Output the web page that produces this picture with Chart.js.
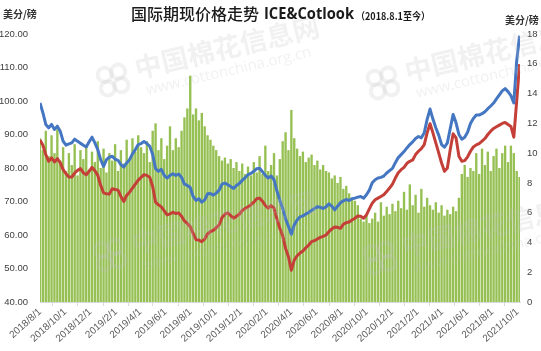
<!DOCTYPE html>
<html>
<head>
<meta charset="utf-8">
<script src="https://cdn.jsdelivr.net/npm/chart.js@4/dist/chart.umd.min.js"></script>
<style>
  html, body { margin: 0; padding: 0; background: #fff; }
  #wrap { position: relative; width: 541px; height: 351px; }
</style>
</head>
<body>
<div id="wrap"><canvas id="chart" width="541" height="351"></canvas></div>
<script>
// weekly readings starting 2018/8/1 (one value per week)
const tickLabels = ['2018/8/1', '2018/10/1', '2018/12/1', '2019/2/1', '2019/4/1', '2019/6/1', '2019/8/1',
  '2019/10/1', '2019/12/1', '2020/2/1', '2020/4/1', '2020/6/1', '2020/8/1', '2020/10/1', '2020/12/1',
  '2021/2/1', '2021/4/1', '2021/6/1', '2021/8/1', '2021/10/1'];

// Cotlook A index (blue), cents/lb
const cotlook = [
  99.4, 96.5, 93.0, 92.0, 93.0, 91.5, 92.5, 91.0, 88.0, 86.8,
  87.2, 87.5, 88.6, 88.0, 87.4, 86.8, 86.3, 87.8, 89.2, 87.5,
  85.5, 82.5, 80.5, 82.5, 83.2, 83.5, 82.6, 82.3, 81.0, 80.3,
  81.5, 82.5, 84.2, 85.5, 87.0, 87.3, 87.9, 87.3, 86.5, 84.0,
  79.8, 79.0, 79.6, 77.8, 77.0, 77.8, 78.3, 77.8, 78.2, 77.2,
  75.2, 74.8, 74.2, 71.5, 70.3, 70.8, 69.8, 70.5, 72.3, 72.4,
  71.9, 72.5, 73.4, 75.2, 75.5, 75.0, 74.5, 73.9, 74.8, 75.4,
  76.3, 77.1, 78.0, 78.4, 79.0, 79.8, 79.9, 78.9, 77.8, 77.0,
  77.6, 76.5, 73.2, 70.4, 68.0, 64.8, 62.6, 60.2, 63.0, 64.5,
  65.4, 65.7, 66.3, 66.7, 67.3, 67.9, 68.4, 68.3, 67.9, 68.4,
  69.3, 68.6, 67.5, 68.6, 69.6, 70.2, 70.6, 70.3, 70.8, 71.0,
  71.3, 71.5, 71.0, 72.0, 73.4, 75.6, 76.5, 77.0, 77.2, 77.6,
  78.5, 79.2, 79.9, 81.6, 83.1, 84.0, 84.9, 86.0, 87.0, 87.8,
  88.8, 89.4, 89.0, 90.5, 94.5, 97.6, 94.6, 92.0, 89.8, 87.0,
  86.2, 87.5, 91.8, 96.0, 93.5, 90.0, 88.6, 89.2, 90.7, 93.3,
  94.8, 95.8, 95.8, 96.2, 96.8, 97.7, 98.5, 99.4, 100.6, 101.8,
  103.0, 103.7, 102.8, 101.6, 99.4, 112.0, 119.5
];

// ICE futures (red), cents/lb
const ice = [
  88.4, 86.8, 84.0, 82.0, 83.0, 81.8, 82.8, 81.6, 79.5, 78.3,
  77.3, 77.3, 78.5, 79.3, 79.8, 78.6, 78.0, 79.0, 80.2, 79.2,
  77.8, 74.8, 72.6, 72.3, 72.2, 73.8, 73.6, 73.4, 71.5, 70.0,
  71.8, 72.8, 74.0, 75.2, 76.4, 77.2, 78.0, 77.8, 77.2, 74.5,
  69.8, 69.0, 68.4, 67.2, 66.0, 66.3, 66.8, 66.4, 66.6, 65.6,
  64.2, 63.4, 62.5, 60.5, 58.6, 58.5, 58.0, 58.8, 60.3, 61.0,
  61.4, 62.2, 63.0, 65.2, 66.2, 66.6, 65.8, 65.0, 65.6, 66.2,
  67.3, 67.9, 68.4, 69.0, 69.8, 70.8, 71.0, 70.1, 68.8, 68.0,
  68.8, 68.0, 64.8, 62.0, 59.8, 56.0, 53.5, 49.5, 52.5, 53.8,
  54.6, 55.2, 56.2, 57.0, 58.0, 58.3, 58.8, 59.3, 59.6, 60.0,
  61.0, 61.8, 62.4, 62.3, 62.0, 63.2, 63.7, 63.9, 64.5, 65.0,
  65.7, 65.6, 65.0, 66.0, 67.8, 69.5, 70.5, 71.0, 71.5, 72.0,
  73.0, 74.0, 75.2, 77.0, 78.6, 79.5, 80.2, 81.4, 82.0, 82.4,
  84.0, 85.0, 85.8, 87.0, 90.5, 93.2, 90.5, 87.5, 84.5, 81.5,
  79.0, 80.0, 85.5, 90.2, 89.0, 83.5, 82.0, 82.2, 83.3, 85.0,
  86.3, 86.9, 87.3, 88.0, 88.8, 90.0, 91.0, 91.8, 92.3, 92.8,
  93.3, 93.6, 93.0, 92.4, 89.2, 100.0, 111.0
];

// spread (green bars), right axis
const spread = [
  11.0, 10.2, 11.5, 9.8, 11.2, 10.0, 11.6, 9.5,
  10.4, 8.8, 10.0, 9.2, 10.6, 8.5, 10.2, 9.6, 10.5, 8.9, 10.1, 9.4, 10.8,
  9.0, 10.3, 8.7, 10.0, 9.5, 10.6, 8.8, 10.2, 9.3, 10.9, 9.6, 11.0, 10.1, 11.2, 10.4,
  10.0, 10.8, 9.4, 11.5, 12.0, 10.2, 11.0, 9.6, 10.5, 11.8, 10.2, 11.0, 10.4, 11.5, 12.4,
  13.0, 15.2, 12.6, 13.0, 12.2, 12.7, 11.8, 11.2, 10.9, 10.5,
  10.2, 9.8, 9.5, 9.7, 9.3, 9.6, 9.0, 9.4, 8.8, 9.3, 8.6, 9.1, 8.5, 9.4, 8.7,
  9.8, 8.6, 10.5, 8.8, 9.2, 10.0, 8.5, 9.6, 10.8, 11.4, 10.2, 12.9, 11.0, 10.3, 9.8,
  10.1, 9.4, 9.7, 9.9, 9.2, 9.5, 8.9, 9.2, 8.8, 8.7, 8.3, 8.5, 8.0, 8.4, 7.6, 7.8, 7.3, 7.0, 6.8, 6.5,
  5.6, 5.4, 5.8, 5.3, 5.6, 6.0, 5.4, 6.7, 5.8, 6.4, 5.9, 6.6, 6.1, 6.8, 6.3,
  7.4, 6.2, 7.9, 6.5, 7.2, 6.0, 7.6, 6.4, 7.0, 6.5, 6.2, 6.7, 6.0, 6.5, 5.8,
  6.2, 5.9, 6.4, 6.1, 7.0, 8.6, 9.2, 8.4, 9.0, 8.8,
  10.0, 8.6, 10.3, 9.2, 10.1, 8.8, 9.8, 10.3, 9.0, 10.0, 10.5, 9.4, 10.5, 10.0, 8.8, 8.4
];

const dayOf = s => {
  const [y, m, d] = s.split('/').map(Number);
  return (Date.UTC(y, m - 1, d) - Date.UTC(2018, 7, 1)) / 86400000;
};
const tickDays = tickLabels.map(dayOf);
const toPoints = arr => arr.map((v, i) => ({ x: i * 7, y: v }));

// header text + watermark
const decorPlugin = {
  id: 'decor',
  afterDatasetsDraw(chart) {
    const c = chart.ctx;
    c.save();
    c.fillStyle = 'rgba(190,190,190,0.22)';
    c.strokeStyle = 'rgba(190,190,190,0.22)';
    const marks = [[113, 80], [383, 83], [110, 255], [380, 258]];
    marks.forEach(([x, y]) => {
      c.save();
      c.translate(x, y);
      c.rotate(-0.23);
      c.lineWidth = 4;
      [[-7, -7], [7, -7], [-7, 7], [7, 7]].forEach(([dx, dy]) => {
        c.beginPath();
        c.arc(dx, dy, 7, 0, Math.PI * 2);
        c.stroke();
      });
      c.font = 'bold 27px "Noto Sans CJK SC"';
      c.textBaseline = 'middle';
      c.fillText('中国棉花信息网', 24, -6);
      c.font = '15px "Open Sans"';
      c.fillText('www.cottonchina.org.cn', 30, 18);
      c.restore();
    });
    c.restore();
  },
  afterDraw(chart) {
    const c = chart.ctx;
    c.save();
    c.fillStyle = '#1a1a1a';
    c.textBaseline = 'middle';
    c.font = '500 16px "Noto Sans CJK SC"';
    c.fillText('国际期现价格走势', 131, 14, 132);
    c.font = 'bold 16px "Open Sans"';
    c.fillText('ICE&Cotlook', 264, 14, 90);
    c.font = 'bold 10px "Noto Sans CJK SC"';
    c.fillText('（2018.8.1至今）', 356, 16, 74);
    c.font = 'bold 10px "Noto Sans CJK SC"';
    c.fillStyle = '#333';
    c.fillText('美分/磅', 3, 14);
    c.fillText('美分/磅', 505, 20);
    c.restore();
  }
};

const ctx = document.getElementById('chart').getContext('2d');
new Chart(ctx, {
  type: 'bar',
  data: {
    datasets: [
      {
        type: 'line',
        label: 'Cotlook',
        data: toPoints(cotlook),
        borderColor: '#4476c2',
        borderWidth: 3,
        pointRadius: 0,
        borderJoinStyle: 'round',
        yAxisID: 'y',
        order: 0
      },
      {
        type: 'line',
        label: 'ICE',
        data: toPoints(ice),
        borderColor: '#c43f38',
        borderWidth: 3,
        pointRadius: 0,
        borderJoinStyle: 'round',
        yAxisID: 'y',
        order: 1
      },
      {
        type: 'bar',
        label: '价差',
        data: toPoints(spread),
        backgroundColor: '#96c054',
        barPercentage: 0.82,
        categoryPercentage: 1,
        yAxisID: 'y1',
        order: 2
      }
    ]
  },
  options: {
    responsive: false,
    animation: false,
    layout: { padding: { top: 34, left: 0, right: 0, bottom: 0 } },
    plugins: { legend: { display: false }, tooltip: { enabled: false } },
    scales: {
      x: {
        type: 'linear',
        min: 0,
        max: 1163,
        offset: false,
        afterBuildTicks: scale => { scale.ticks = tickDays.map(v => ({ value: v })); },
        afterFit: scale => { scale.height = 49; },
        grid: { drawOnChartArea: false, drawTicks: true, tickLength: 4, color: '#d9d9d9' },
        border: { color: '#d9d9d9' },
        ticks: {
          autoSkip: false,
          minRotation: 42,
          maxRotation: 42,
          padding: 0,
          color: '#595959',
          font: { family: 'Liberation Sans', size: 10 },
          callback: (v, i) => tickLabels[i]
        }
      },
      y: {
        position: 'left',
        min: 40,
        max: 120,
        afterFit: scale => { scale.width = 40; },
        grid: { display: false, drawTicks: false },
        border: { display: false },
        ticks: {
          stepSize: 10,
          padding: 12,
          color: '#404040',
          font: { family: 'Liberation Sans', size: 9.5 },
          callback: v => v.toFixed(2)
        }
      },
      y1: {
        position: 'right',
        min: 0,
        max: 18,
        afterFit: scale => { scale.width = 21; },
        grid: { display: false, drawTicks: false },
        border: { display: false },
        ticks: {
          stepSize: 2,
          padding: 7,
          color: '#404040',
          font: { family: 'Liberation Sans', size: 9.5 }
        }
      }
    }
  },
  plugins: [decorPlugin]
});
</script>
</body>
</html>
